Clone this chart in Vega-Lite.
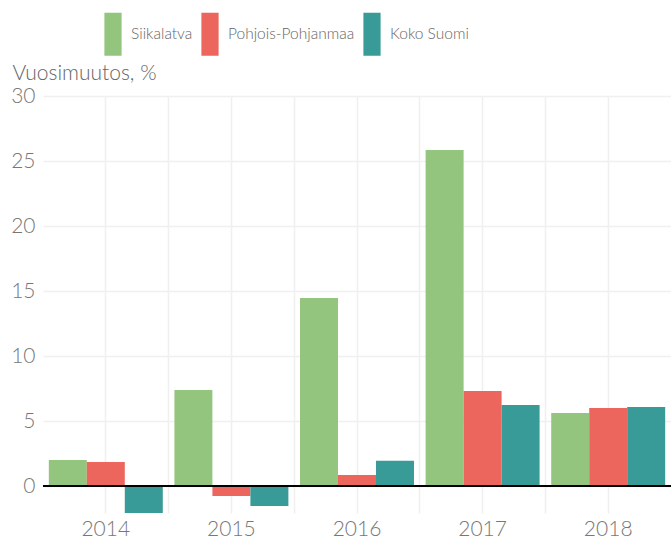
{
  "$schema": "https://vega.github.io/schema/vega-lite/v6.json",
  "width": 628,
  "height": 417,
  "autosize": {"type": "none"},
  "padding": {"left": 43, "top": 96, "right": 0, "bottom": 25},
  "config": {
    "view": {"stroke": null},
    "font": "Lato",
    "axis": {"labelFont": "Lato", "titleFont": "Lato"}
  },
  "data": {
    "values": [
      {"vuosi": "2014", "alue": "Siikalatva", "muutos": 2.0},
      {"vuosi": "2014", "alue": "Pohjois-Pohjanmaa", "muutos": 1.85},
      {"vuosi": "2014", "alue": "Koko Suomi", "muutos": -2.07},
      {"vuosi": "2015", "alue": "Siikalatva", "muutos": 7.38},
      {"vuosi": "2015", "alue": "Pohjois-Pohjanmaa", "muutos": -0.77},
      {"vuosi": "2015", "alue": "Koko Suomi", "muutos": -1.54},
      {"vuosi": "2016", "alue": "Siikalatva", "muutos": 14.46},
      {"vuosi": "2016", "alue": "Pohjois-Pohjanmaa", "muutos": 0.85},
      {"vuosi": "2016", "alue": "Koko Suomi", "muutos": 1.95},
      {"vuosi": "2017", "alue": "Siikalatva", "muutos": 25.85},
      {"vuosi": "2017", "alue": "Pohjois-Pohjanmaa", "muutos": 7.31},
      {"vuosi": "2017", "alue": "Koko Suomi", "muutos": 6.23},
      {"vuosi": "2018", "alue": "Siikalatva", "muutos": 5.62},
      {"vuosi": "2018", "alue": "Pohjois-Pohjanmaa", "muutos": 6.0},
      {"vuosi": "2018", "alue": "Koko Suomi", "muutos": 6.08}
    ]
  },
  "layer": [
    {
      "mark": {"type": "bar", "opacity": 0},
      "encoding": {
        "x": {
          "field": "vuosi", "type": "ordinal",
          "scale": {"paddingInner": 0, "paddingOuter": 0},
          "axis": {
            "orient": "top", "title": null, "labels": false, "ticks": false, "domain": false,
            "grid": true, "gridColor": "#f0f0f0", "gridWidth": 1.5,
            "bandPosition": 0, "values": ["2015", "2016", "2017", "2018"]
          }
        },
        "y": {
          "field": "muutos", "type": "quantitative",
          "scale": {"domain": [-2.07, 30], "nice": false, "zero": false},
          "axis": {
            "title": "Vuosimuutos, %", "titleAngle": 0, "titleAlign": "left", "titleBaseline": "alphabetic",
            "titleX": -31, "titleY": -17, "titleFontSize": 21, "titleFontWeight": 300, "titleColor": "#666666",
            "values": [0, 5, 10, 15, 20, 25, 30], "ticks": false, "domain": false,
            "grid": true, "gridColor": "#f0f0f0", "gridWidth": 1.5,
            "labelFontSize": 21, "labelColor": "#777777", "labelPadding": 8, "labelFontWeight": 300
          }
        }
      }
    },
    {
      "mark": {"type": "bar"},
      "encoding": {
        "x": {
          "field": "vuosi", "type": "ordinal",
          "axis": {
            "orient": "bottom", "title": null, "labelAngle": 0, "ticks": false, "domain": false,
            "grid": true, "gridColor": "#f0f0f0", "gridWidth": 1.5, "bandPosition": 0.5,
            "labelFontSize": 21, "labelColor": "#777777", "labelPadding": 5, "labelFontWeight": 300
          }
        },
        "xOffset": {
          "field": "alue", "type": "nominal",
          "sort": ["Siikalatva", "Pohjois-Pohjanmaa", "Koko Suomi"],
          "scale": {"paddingInner": 0, "paddingOuter": 0.153}
        },
        "y": {
          "field": "muutos", "type": "quantitative",
          "axis": {
            "title": "Vuosimuutos, %", "titleAngle": 0, "titleAlign": "left", "titleBaseline": "alphabetic",
            "titleX": -31, "titleY": -17, "titleFontSize": 21, "titleFontWeight": 300, "titleColor": "#666666",
            "values": [0, 5, 10, 15, 20, 25, 30], "ticks": false, "domain": false,
            "grid": true, "gridColor": "#f0f0f0", "gridWidth": 1.5,
            "labelFontSize": 21, "labelColor": "#777777", "labelPadding": 8, "labelFontWeight": 300
          }
        },
        "color": {
          "field": "alue", "type": "nominal",
          "sort": ["Siikalatva", "Pohjois-Pohjanmaa", "Koko Suomi"],
          "scale": {"range": ["#94c57e", "#ec665e", "#389b97"]},
          "legend": {
            "title": null, "orient": "none", "direction": "horizontal",
            "legendX": 61, "legendY": -71, "padding": 0,
            "symbolType": "M-1,-2.5L1,-2.5L1,2.5L-1,2.5Z", "symbolSize": 296,
            "symbolStrokeWidth": 0, "symbolOpacity": 1,
            "labelFontSize": 15.5, "labelColor": "#666666", "labelFontWeight": 300,
            "labelOffset": 9, "columnPadding": 8
          }
        }
      }
    },
    {
      "mark": {"type": "rule", "color": "#000000", "strokeWidth": 1.5},
      "encoding": {"y": {"datum": 0}}
    }
  ],
  "resolve": {"axis": {"x": "independent"}}
}
